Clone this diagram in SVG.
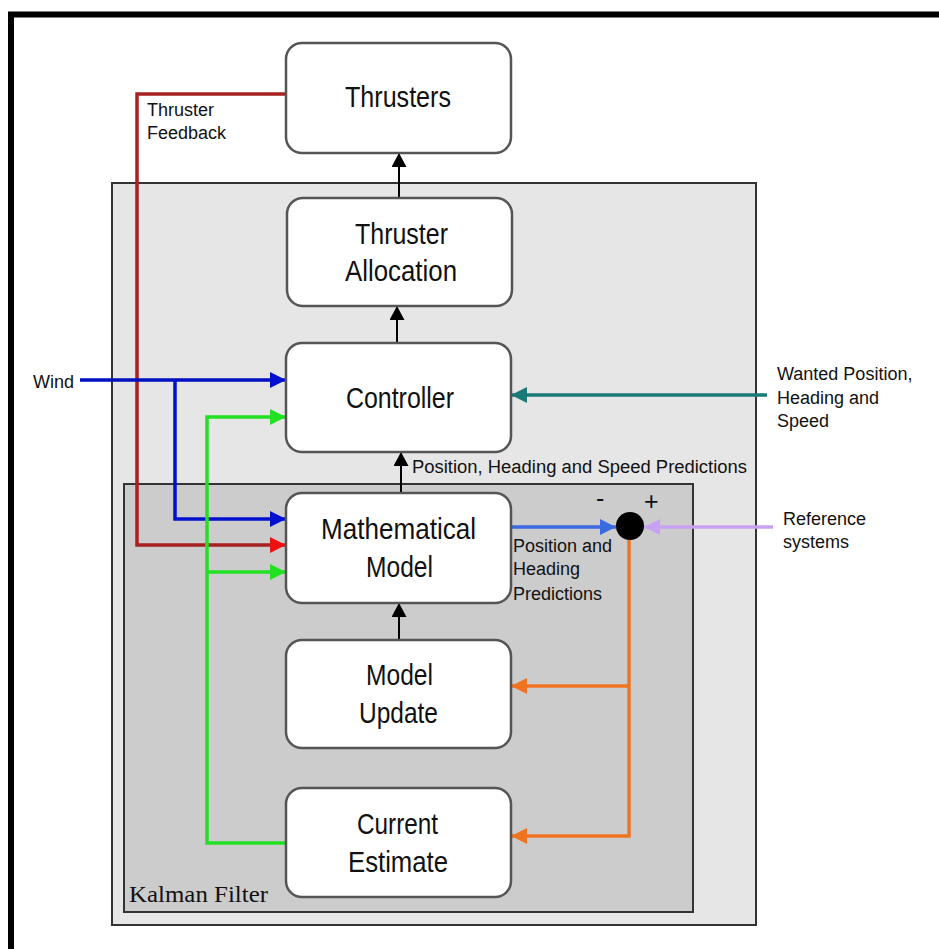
<svg xmlns="http://www.w3.org/2000/svg" width="939" height="949" viewBox="0 0 939 949">
<style>
.big{font-family:"Liberation Sans",Arial,sans-serif;font-size:29px;fill:#111}
.sm{font-family:"Liberation Sans",Arial,sans-serif;font-size:18px;fill:#111}
.sign{font-family:"Liberation Sans",Arial,sans-serif;font-size:25px;fill:#111}
.box{fill:#fff;stroke:#555;stroke-width:2.5}
.ln{fill:none;stroke-width:3.5}
</style>
<defs>
<marker id="ak" viewBox="0 0 14 15" refX="14" refY="7.5" markerWidth="14" markerHeight="15" markerUnits="userSpaceOnUse" orient="auto"><path d="M0,0L14,7.5L0,15z" fill="#000"/></marker>
<marker id="ab" viewBox="0 0 16 16" refX="16" refY="8" markerWidth="16" markerHeight="16" markerUnits="userSpaceOnUse" orient="auto"><path d="M0,0L16,8L0,16z" fill="#0010d0"/></marker>
<marker id="ar" viewBox="0 0 16 16" refX="16" refY="8" markerWidth="16" markerHeight="16" markerUnits="userSpaceOnUse" orient="auto"><path d="M0,0L16,8L0,16z" fill="#ee1111"/></marker>
<marker id="ag" viewBox="0 0 16 16" refX="16" refY="8" markerWidth="16" markerHeight="16" markerUnits="userSpaceOnUse" orient="auto"><path d="M0,0L16,8L0,16z" fill="#22e022"/></marker>
<marker id="at" viewBox="0 0 16 16" refX="16" refY="8" markerWidth="16" markerHeight="16" markerUnits="userSpaceOnUse" orient="auto"><path d="M0,0L16,8L0,16z" fill="#1a7a7a"/></marker>
<marker id="al" viewBox="0 0 16 16" refX="16" refY="8" markerWidth="16" markerHeight="16" markerUnits="userSpaceOnUse" orient="auto"><path d="M0,0L16,8L0,16z" fill="#3a6ae0"/></marker>
<marker id="av" viewBox="0 0 16 16" refX="16" refY="8" markerWidth="16" markerHeight="16" markerUnits="userSpaceOnUse" orient="auto"><path d="M0,0L16,8L0,16z" fill="#c8a2f2"/></marker>
<marker id="ao" viewBox="0 0 16 16" refX="16" refY="8" markerWidth="16" markerHeight="16" markerUnits="userSpaceOnUse" orient="auto"><path d="M0,0L16,8L0,16z" fill="#f07420"/></marker>
</defs>
<rect width="939" height="949" fill="#fff"/>
<path d="M11,949V14.5H939" fill="none" stroke="#000" stroke-width="6"/>
<g id="panel-outer"><rect x="112" y="183" width="644" height="742" fill="#e6e6e6" stroke="#333" stroke-width="2"/></g>
<g id="panel-kalman"><rect x="124" y="484" width="569" height="428" fill="#cccccc" stroke="#333" stroke-width="2"/>
<text x="129" y="902" font-family="'Liberation Serif','Times New Roman',serif" font-size="24" fill="#111" textLength="139" lengthAdjust="spacingAndGlyphs">Kalman Filter</text></g>

<g id="connectors">
<path class="ln" stroke="#a82020" d="M286,94H137V545H286" marker-end="url(#ar)"/>
<path class="ln" stroke="#0010c0" d="M80,380H286" marker-end="url(#ab)"/>
<path class="ln" stroke="#0010d0" d="M175,380V519H286" marker-end="url(#ab)"/>
<path class="ln" stroke="#22e022" d="M286,843H207V417H286" marker-end="url(#ag)"/>
<path class="ln" stroke="#22e022" d="M207,572H286" marker-end="url(#ag)"/>
<path class="ln" stroke="#1a7a7a" d="M767,395H511" marker-end="url(#at)"/>
<path class="ln" stroke="#3a6ae0" d="M511,527H616" marker-end="url(#al)"/>
<path class="ln" stroke="#c8a2f2" d="M773,527H644" marker-end="url(#av)"/>
<path class="ln" stroke="#f07420" d="M629,540V836H511" marker-end="url(#ao)"/>
<path class="ln" stroke="#f07420" d="M629,686H511" marker-end="url(#ao)"/>
<path fill="none" stroke="#000" stroke-width="2" d="M399,198V153" marker-end="url(#ak)"/>
<path fill="none" stroke="#000" stroke-width="2" d="M397,343V306" marker-end="url(#ak)"/>
<path fill="none" stroke="#000" stroke-width="2" d="M401,493V452" marker-end="url(#ak)"/>
<path fill="none" stroke="#000" stroke-width="2" d="M399,640V603" marker-end="url(#ak)"/>
<circle cx="630" cy="526" r="14" fill="#000"/>
</g>

<g id="thrusters"><rect class="box" x="286" y="43" width="225" height="110" rx="16"/>
<text class="big" x="345" y="107" textLength="106" lengthAdjust="spacingAndGlyphs">Thrusters</text></g>
<g id="allocation"><rect class="box" x="287" y="198" width="225" height="108" rx="16"/>
<text class="big" x="355" y="244" textLength="93" lengthAdjust="spacingAndGlyphs">Thruster</text>
<text class="big" x="345" y="281" textLength="112" lengthAdjust="spacingAndGlyphs">Allocation</text></g>
<g id="controller"><rect class="box" x="286" y="343" width="225" height="109" rx="16"/>
<text class="big" x="346" y="408" textLength="108" lengthAdjust="spacingAndGlyphs">Controller</text></g>
<g id="mathmodel"><rect class="box" x="286" y="493" width="225" height="110" rx="16"/>
<text class="big" x="321" y="539" textLength="155" lengthAdjust="spacingAndGlyphs">Mathematical</text>
<text class="big" x="366" y="577" textLength="67" lengthAdjust="spacingAndGlyphs">Model</text></g>
<g id="modelupdate"><rect class="box" x="286" y="640" width="225" height="108" rx="16"/>
<text class="big" x="366" y="685" textLength="67" lengthAdjust="spacingAndGlyphs">Model</text>
<text class="big" x="359" y="723" textLength="79" lengthAdjust="spacingAndGlyphs">Update</text></g>
<g id="currentestimate"><rect class="box" x="286" y="788" width="225" height="109" rx="16"/>
<text class="big" x="357" y="834" textLength="81" lengthAdjust="spacingAndGlyphs">Current</text>
<text class="big" x="348" y="872" textLength="100" lengthAdjust="spacingAndGlyphs">Estimate</text></g>

<g id="labels">
<text class="sm" x="147" y="116">Thruster</text>
<text class="sm" x="147" y="139">Feedback</text>
<text class="sm" x="33" y="388">Wind</text>
<text class="sm" x="777" y="380">Wanted Position,</text>
<text class="sm" x="777" y="404">Heading and</text>
<text class="sm" x="777" y="427">Speed</text>
<text class="sm" x="412" y="473" textLength="335" lengthAdjust="spacingAndGlyphs">Position, Heading and Speed Predictions</text>
<text class="sm" x="783" y="525">Reference</text>
<text class="sm" x="783" y="548">systems</text>
<text class="sm" x="513" y="552">Position and</text>
<text class="sm" x="513" y="575">Heading</text>
<text class="sm" x="513" y="600">Predictions</text>
<text class="sign" x="596" y="507">-</text>
<text class="sign" x="644" y="510">+</text>
</g>
</svg>
